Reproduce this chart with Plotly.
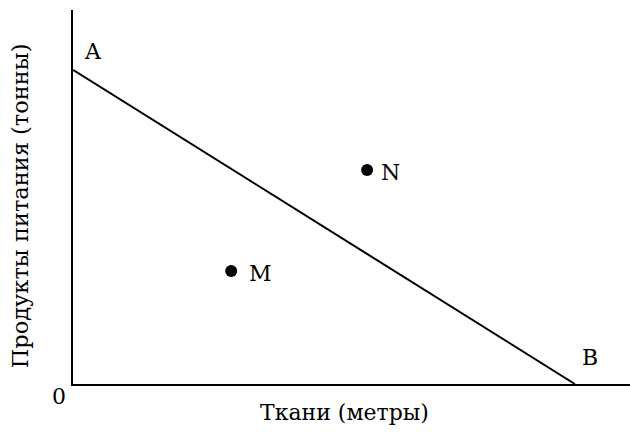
import plotly.graph_objects as go

# Data (arbitrary units)
line_labels = ["A", "B"]
line_x = [0, 90.1]
line_y = [84.0, 0]

point_labels = ["M", "N"]
point_x = [28.4, 52.8]
point_y = [30.2, 57.2]

x_title = "Ткани (метры)"
y_title = "Продукты питания (тонны)"
origin_label = "0"

FONT = "DejaVu Serif, Liberation Serif, serif"
FS = 22

fig = go.Figure()
fig.add_trace(go.Scatter(x=line_x, y=line_y, mode="lines",
                         line=dict(color="black", width=2), hoverinfo="skip"))
fig.add_trace(go.Scatter(x=point_x, y=point_y, mode="markers",
                         marker=dict(color="black", size=12),
                         hoverinfo="skip"))

annotations = []
for lab, xx, yy, xs in zip(point_labels, point_x, point_y, [16, 12]):
    annotations.append(dict(x=xx, y=yy, text=lab, showarrow=False,
                            xanchor="left", xshift=xs, yshift=-2,
                            font=dict(family=FONT, size=FS, color="black")))
for lab, xx, yy, xs, ys in zip(line_labels, line_x, line_y, [20, 15], [18, 27]):
    annotations.append(dict(x=xx, y=yy, text=lab, showarrow=False,
                            xshift=xs, yshift=ys,
                            font=dict(family=FONT, size=FS, color="black")))
annotations.append(dict(x=0, y=0, text=origin_label, showarrow=False,
                        xshift=-14, yshift=-12,
                        font=dict(family=FONT, size=FS, color="black")))
annotations.append(dict(x=0.487, y=0, xref="paper", yref="paper", text=x_title,
                        showarrow=False, yshift=-28, yanchor="middle",
                        font=dict(family=FONT, size=FS, color="black")))
annotations.append(dict(x=0, y=0.475, xref="paper", yref="paper", text=y_title,
                        showarrow=False, xshift=-53, xanchor="center", yanchor="middle",
                        textangle=-90,
                        font=dict(family=FONT, size=22.5, color="black")))

fig.update_layout(
    width=630, height=435,
    margin=dict(l=73, r=0, t=10, b=51),
    plot_bgcolor="white", paper_bgcolor="white",
    showlegend=False,
    annotations=annotations,
    xaxis=dict(range=[0, 100], showgrid=False, zeroline=False, showticklabels=False,
               ticks="", showline=True, linecolor="black", linewidth=2),
    yaxis=dict(range=[0, 100], showgrid=False, zeroline=False, showticklabels=False,
               ticks="", showline=True, linecolor="black", linewidth=2),
)

fig.write_html("out.html", config={"displayModeBar": False},
               post_script="document.body.style.margin='0';")
